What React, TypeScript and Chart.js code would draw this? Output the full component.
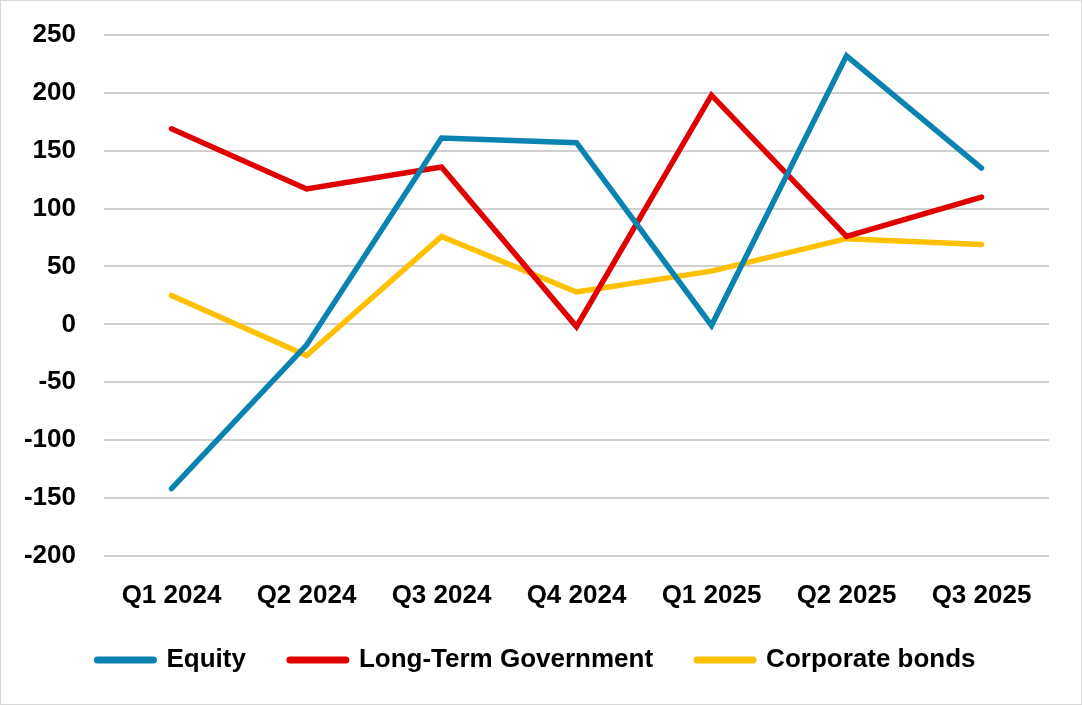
import React, { useEffect, useRef } from "react";
import { Chart, registerables } from "chart.js";

Chart.register(...registerables);

const categories = ["Q1 2024", "Q2 2024", "Q3 2024", "Q4 2024", "Q1 2025", "Q2 2025", "Q3 2025"];
const equity = [-142, -18, 161, 157, -1, 232, 135];
const longTermGov = [169, 117, 136, -2, 198, 76, 110];
const corporateBonds = [25, -27, 76, 28, 46, 74, 69];
const seriesNames = ["Equity", "Long-Term Government", "Corporate bonds"];
const seriesColors = ["#0B83B0", "#E00000", "#FFC000"];
const yMin = -200;
const yMax = 250;
const yStep = 50;

const FONT = "'Liberation Sans', Arial, sans-serif";

const legendShift = {
  id: "legendShift",
  afterLayout(chart: any) {
    const lg = chart.legend;
    if (lg) {
      lg.top -= 32;
      lg.bottom -= 32;
    }
  },
};

export default function App() {
  const canvasRef = useRef<HTMLCanvasElement | null>(null);

  useEffect(() => {
    document.body.style.margin = "0";
    const canvas = canvasRef.current;
    if (!canvas) return;
    const seriesData = [equity, longTermGov, corporateBonds];
    const chart = new Chart(canvas, {
      type: "line",
      data: {
        labels: categories,
        datasets: seriesData.map((d, i) => ({
          label: seriesNames[i],
          data: d,
          borderColor: seriesColors[i],
          backgroundColor: seriesColors[i],
          borderWidth: 5.5,
          pointRadius: 0,
          pointHoverRadius: 0,
          tension: 0,
          borderCapStyle: "round" as const,
          borderJoinStyle: "miter" as const,
          fill: false,
        })),
      },
      plugins: [legendShift],
      options: {
        responsive: true,
        maintainAspectRatio: false,
        animation: false,
        layout: { padding: { left: 23, right: 32, top: 34, bottom: -11 } },
        scales: {
          x: {
            offset: true,
            grid: { display: false, drawTicks: false },
            border: { display: false },
            ticks: {
              color: "#000",
              font: { family: FONT, size: 26, weight: "bold" },
              padding: 24,
              maxRotation: 0,
              autoSkip: false,
            },
          },
          y: {
            min: yMin,
            max: yMax,
            grid: { color: "#D0D0D0", lineWidth: 2, drawTicks: false },
            border: { display: false },
            afterFit: (s: any) => {
              s.width = 80;
              s.paddingTop = 16;
              s.paddingBottom = 16;
            },
            ticks: {
              stepSize: yStep,
              color: "#000",
              font: { family: FONT, size: 26, weight: "bold" },
              padding: 28,
            },
          },
        },
        plugins: {
          tooltip: { enabled: false },
          legend: {
            position: "bottom",
            labels: {
              color: "#000",
              font: { family: FONT, size: 26, weight: "bold" },
              usePointStyle: true,
              pointStyleWidth: 56,
              boxHeight: 7,
              padding: 44,
              generateLabels: (c: any) =>
                c.data.datasets.map((ds: any, i: number) => ({
                  text: ds.label,
                  fillStyle: ds.borderColor,
                  strokeStyle: ds.borderColor,
                  lineWidth: 7,
                  lineCap: "round",
                  pointStyle: "line",
                  hidden: false,
                  datasetIndex: i,
                  fontColor: "#000",
                })),
            },
          },
        },
      },
    });
    return () => chart.destroy();
  }, []);

  return (
    <div
      style={{
        position: "absolute",
        left: 0,
        top: 0,
        width: 1082,
        height: 705,
        boxSizing: "border-box",
        border: "1px solid #D9D9D9",
        background: "#fff",
      }}
    >
      <div style={{ position: "relative", width: 1080, height: 703 }}>
        <canvas ref={canvasRef} />
      </div>
    </div>
  );
}
